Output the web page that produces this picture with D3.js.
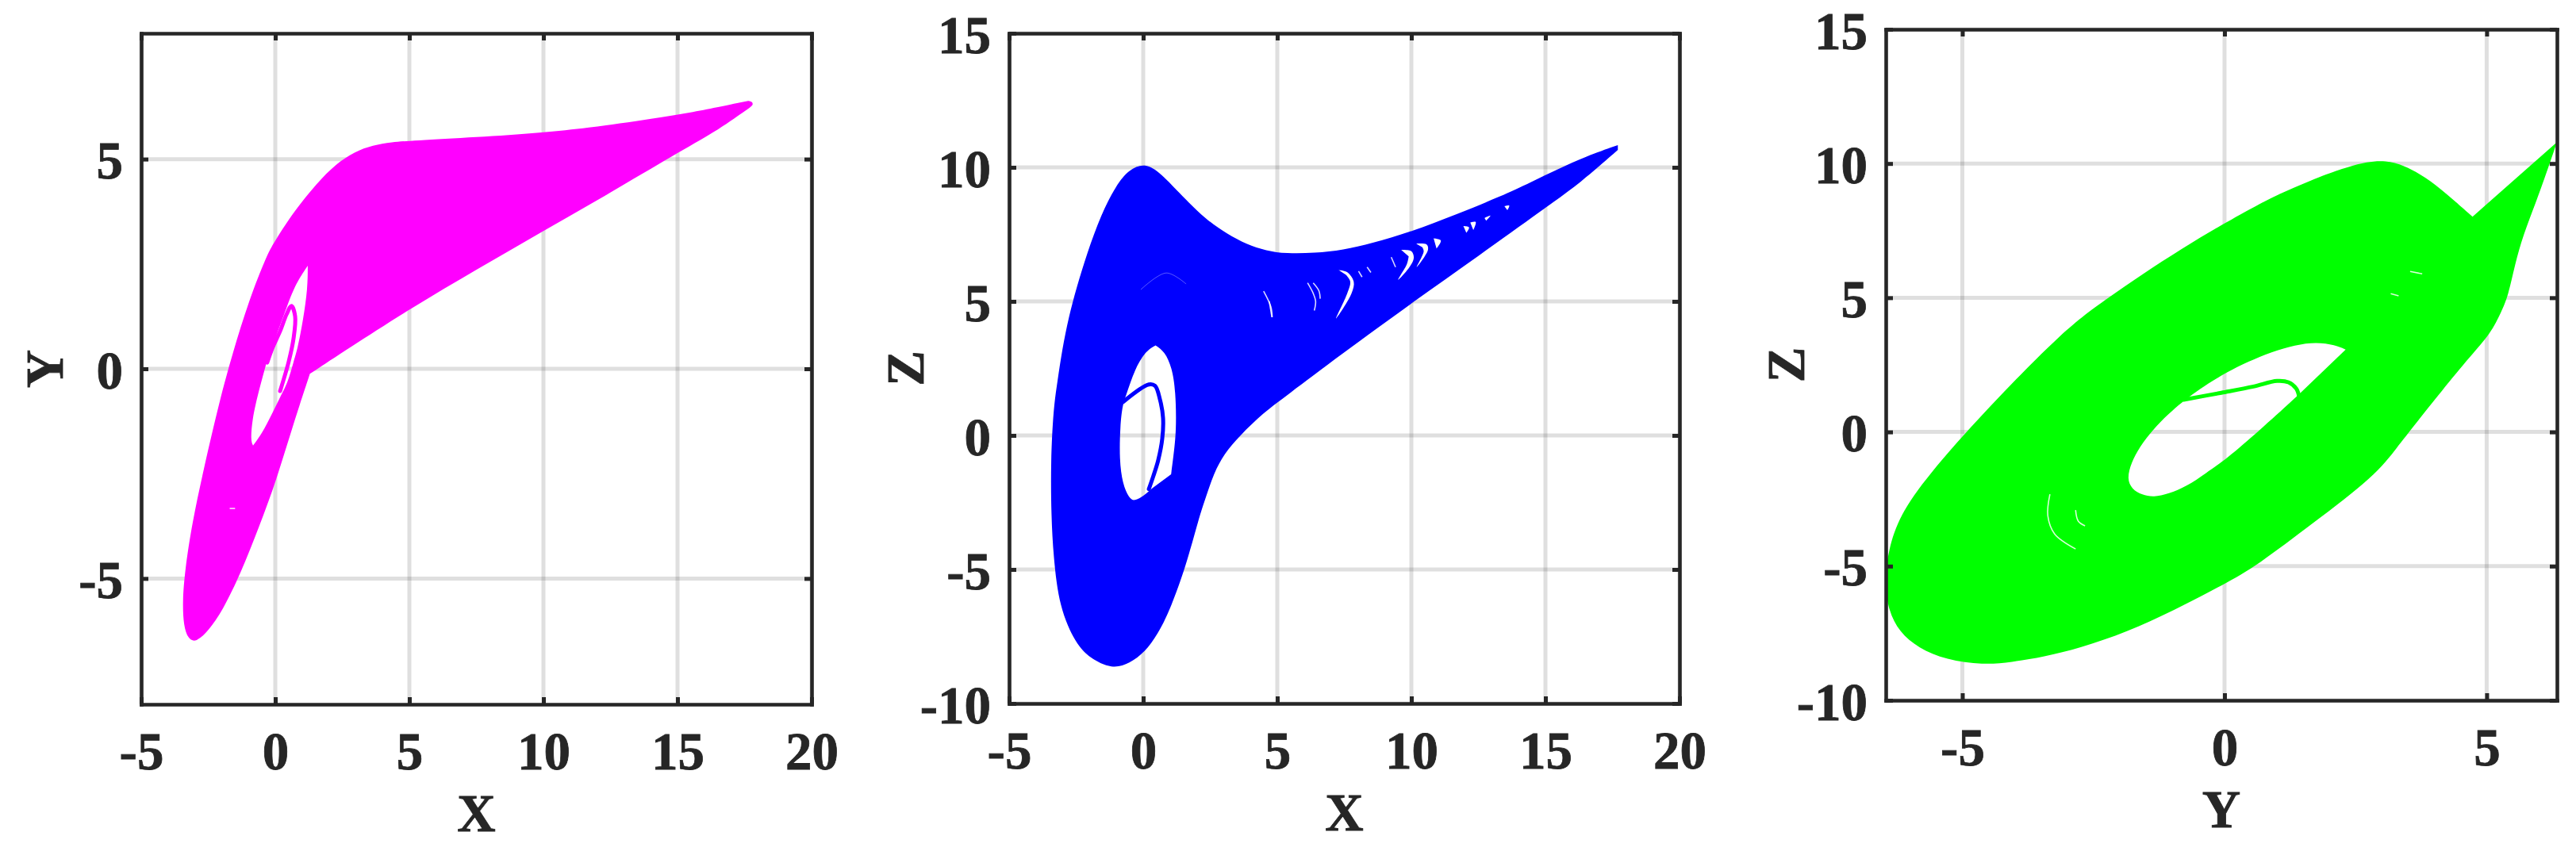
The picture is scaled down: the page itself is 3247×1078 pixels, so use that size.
<!DOCTYPE html>
<html><head><meta charset="utf-8">
<script src="https://cdn.jsdelivr.net/npm/d3@7"></script>
<style>html,body{margin:0;padding:0;background:#fff}svg{display:block}</style>
</head><body><svg id="c" width="3247" height="1078"></svg>
<script>
// ---- values (data coordinates) ----
const xTicksXY=[-5,0,5,10,15,20], yTicksXY=[-5,0,5];
const xTicksXZ=[-5,0,5,10,15,20], zTicks=[-10,-5,0,5,10,15];
const yTicksYZ=[-5,0,5];

// X-Y panel: each outline is a list of smooth runs, joined at corners
const xyOuter=[
 [[1.29,-.12],[.68,-1.3],[.03,-2.68],[-.59,-3.74],[-1.3,-4.9],[-1.98,-5.78],[-2.49,-6.24],[-2.96,-6.53],[-3.25,-6.44],[-3.42,-6.13],[-3.46,-5.54],[-3.37,-4.81],[-3.1,-3.67],[-2.66,-2.36],[-2.07,-.74],[-1.6,.35],[-1,1.6],[-.3,2.74],[0,3.06],[.68,3.74],[1.57,4.44],[2.25,4.88],[2.96,5.18],[3.64,5.33],[4.33,5.41],[5.12,5.44],[7.49,5.52],[9.95,5.63],[11.7,5.75],[13.4,5.9],[15.4,6.09],[17.63,6.39]],
 [[17.63,6.39],[17.8,6.37],[17.82,6.28],[17.63,6.2]],
 [[17.63,6.2],[16.36,5.63],[14.97,5.14],[12.4,4.16],[9.95,3.27],[7.49,2.36],[5.12,1.47],[2.69,.47],[1.29,-.12]]
];
const xyHole=[
 [[1.21,2.46],[1.21,1.93],[1.04,1.17],[.83,.47],[.68,.17],[.47,-.32],[.24,-.6]],
 [[.24,-.6],[-.11,-1.06],[-.5,-1.55],[-.83,-1.83]],
 [[-.83,-1.83],[-.92,-1.7],[-.86,-1.22],[-.68,-.68],[-.3,.21]],
 [[-.3,.21],[0,.72],[.47,1.55],[.77,2.04],[1.21,2.46]]
];
const xyBand=[[-.3,.15],[-.11,.49],[.18,.9],[.42,1.3],[.6,1.5],[.74,1.25],[.68,.72],[.5,.17],[.18,-.53]];
const xyThin=[[[-1.7,-3.33],[-1.5,-3.33]]];

// X-Z panel
const xzOuter=[
 [[17.7,10.83],[16.5,10.4],[15.5,9.95],[14.44,9.44],[13.37,8.93],[11.69,8.25],[10,7.6],[8.52,7.16],[7.46,6.92],[6.39,6.8],[5.33,6.78],[4.59,6.89],[3.85,7.13],[3.14,7.51],[2.34,8.05],[1.45,8.93],[.65,9.79],[.07,10.17],[-.53,9.92],[-1,9.35],[-1.57,8.25],[-2.1,6.78],[-2.49,5.5],[-2.78,4.41],[-3.02,3.22],[-3.2,2],[-3.35,1],[-3.45,-1],[-3.43,-3],[-3.35,-4.5],[-3.13,-6.43],[-2.51,-7.78],[-2,-8.3],[-1.16,-8.72],[-.5,-8.5],[.06,-8.09],[.55,-7.4],[.98,-6.56],[1.59,-4.9],[2.08,-3.06],[2.34,-2.3],[2.63,-1.42],[3.02,-.68],[3.58,-.03],[4.5,.86],[5.3,1.45],[7.34,2.99],[10.09,5],[12.5,6.69],[14.95,8.46],[16.33,9.44],[17.7,10.65]]
];
const xzHole=[
 [[.46,3.36],[.07,3.13],[-.33,2.43],[-.62,1.55],[-.77,1.15],[-.86,.36],[-.89,-.92],[-.77,-1.8],[-.53,-2.34],[-.33,-2.46],[.03,-2.25],[.36,-1.95]],
 [[.36,-1.95],[1.04,-1.45]],
 [[1.04,-1.45],[1.12,-.83],[1.24,.18],[1.21,1.66],[1.07,2.54],[.8,3.13],[.46,3.36]]
];
const xzBand=[[-.75,1.25],[.21,1.9],[.44,1.85],[.62,1.36],[.74,.65],[.71,-.12],[.56,-.92],[.38,-1.51],[.21,-2.0]];
const xzSlivers=[
 [[7.29,6.17],[7.61,6.09],[7.85,5.74],[7.77,5.3],[7.19,4.36],[7.61,5.3],[7.72,5.74],[7.56,5.99]],
 [[9.62,6.92],[10,6.87],[10.09,6.63],[9.93,6.28],[9.51,5.81],[9.83,6.38],[9.9,6.68]],
 [[10.18,7.15],[10.57,7.12],[10.62,6.92],[10.2,6.28],[10.46,6.87],[10.41,7.02]],
 [[10.83,7.35],[11.1,7.27],[10.94,6.97]],
 [[12.2,7.94],[12.4,7.96],[12.31,7.66]],
 [[11.94,7.81],[12.15,7.76],[12.05,7.56]],
 [[13.47,8.55],[13.65,8.57],[13.58,8.4]],
 [[12.73,8.11],[12.95,8.2],[12.79,8.01]]
];
const xzThin=[
 [[6.13,5.69],[6.34,5.3],[6.43,5],[6.38,4.66]],
 [[6.34,5.69],[6.55,5.4],[6.6,5.1]],
 [[4.49,5.38],[4.76,4.8],[4.81,4.41]],
 [[8.35,6.28],[8.49,6.08]],
 [[9.25,6.65],[9.41,6.28]],
 [[8.03,6.13],[8.16,5.91]],
 [[4.7,5],[4.8,4.41]]
];
const xzFaint=[[[-.09,5.44],[.86,6.06],[1.6,5.65]]];

// Y-Z panel
const yzOuter=[
 [[6.34,10.8],[4.73,8.02]],
 [[4.73,8.02],[4.22,8.9],[3.83,9.5],[3.42,9.94],[3.07,10.12],[2.71,10.06],[2.36,9.88],[1.91,9.59],[1.2,9],[.7,8.55],[-.82,6.87],[-2.33,4.86],[-3.09,3.74],[-4.6,.72],[-5.67,-1.64],[-6.2,-3.12],[-6.41,-4.39],[-6.49,-5.57],[-6.41,-6.66],[-6.2,-7.46],[-5.84,-8.05],[-5.31,-8.49],[-4.6,-8.68],[-4.07,-8.58],[-3.45,-8.38],[-2.75,-8.05],[-1.86,-7.46],[-.98,-6.66],[0,-5.67],[.62,-4.98],[1.68,-3.41],[2.87,-1.64],[3.3,-.55],[3.6,.2],[4.15,1.55],[4.7,2.85],[5.08,3.68],[5.28,4.48],[5.41,5.07],[5.54,6.25],[5.69,7.31],[5.95,8.6],[6.19,9.94],[6.34,10.8]]
];
const yzHole=[
 [[2.31,3.07],[2.11,3.24],[1.75,3.35],[1.35,3.24],[.9,2.99],[.44,2.61],[.04,2.22],[-.31,1.81],[-.64,1.36],[-.79,1.14],[-1.07,.67],[-1.37,.08],[-1.62,-.56],[-1.78,-1.15],[-1.86,-1.74],[-1.77,-2.13],[-1.57,-2.35],[-1.35,-2.43],[-1.07,-2.31],[-.72,-2.03],[-.36,-1.54],[.04,-1],[.65,.03],[1.35,1.27],[1.45,1.46]],
 [[1.45,1.46],[2.31,3.07]]
];
const yzBand=[[-.78,1.2],[-.06,1.46],[.55,1.69],[1,1.9],[1.22,1.85],[1.37,1.61],[1.42,1.34]];
const yzThin=[
 [[-3.33,-2.32],[-3.37,-3.12],[-3.24,-3.8],[-2.84,-4.36]],
 [[-2.84,-2.91],[-2.79,-3.32],[-2.66,-3.5]],
 [[3.54,5.98],[3.77,5.89]],
 [[3.17,5.15],[3.32,5.07]]
];

// ---- drawing ----
const svg=d3.select('#c');
const INK='#262626', SERIF='"Liberation Serif","Times New Roman",serif', FS=67;
const panels=[
 {xd:[-5,20],yd:[-8,8],xr:[178,1023],yr:[888,42],xt:xTicksXY,yt:yTicksXY,color:'#ff00ff',outer:xyOuter,hole:xyHole,band:xyBand,slivers:[],thin:xyThin,faint:[],xl:'X',yl:'Y',ylx:79},
 {xd:[-5,20],yd:[-10,15],xr:[1272,2117],yr:[887,42],xt:xTicksXZ,yt:zTicks,color:'#0000ff',outer:xzOuter,hole:xzHole,band:xzBand,slivers:xzSlivers,thin:xzThin,faint:xzFaint,xl:'X',yl:'Z',ylx:1164},
 {xd:[-6.46,6.34],yd:[-10,15],xr:[2377,3223],yr:[883,37],xt:yTicksYZ,yt:zTicks,color:'#00ff00',outer:yzOuter,hole:yzHole,band:yzBand,slivers:[],thin:yzThin,faint:[],xl:'Y',yl:'Z',ylx:2274}
];
panels.forEach(p=>{
 const sx=d3.scaleLinear().domain(p.xd).range(p.xr), sy=d3.scaleLinear().domain(p.yd).range(p.yr);
 const g=svg.append('g');
 const smooth=d3.line().x(d=>sx(d[0])).y(d=>sy(d[1])).curve(d3.curveBasis);
 const ring=segs=>segs.map((s,i)=>{const t=smooth(s);return i?t.replace(/^M/,'L'):t;}).join('')+'Z';
 const sharp=d3.line().x(d=>sx(d[0])).y(d=>sy(d[1])).curve(d3.curveCatmullRom.alpha(.5));

 // grid
 const grid=g.append('g').attr('stroke','rgba(38,38,38,.15)').attr('stroke-width',5);
 grid.selectAll('.gx').data(p.xt).join('line').attr('class','gx').attr('x1',d=>sx(d)).attr('x2',d=>sx(d)).attr('y1',p.yr[1]).attr('y2',p.yr[0]);
 grid.selectAll('.gy').data(p.yt).join('line').attr('class','gy').attr('y1',d=>sy(d)).attr('y2',d=>sy(d)).attr('x1',p.xr[0]).attr('x2',p.xr[1]);

 // attractor body
 g.append('path').attr('d',ring(p.outer)+ring(p.hole)).attr('fill',p.color).attr('fill-rule','evenodd');
 g.append('path').attr('d',sharp(p.band)).attr('fill','none').attr('stroke',p.color).attr('stroke-width',5).attr('stroke-linecap','round');
 p.slivers.forEach(s=>g.append('path').attr('d',sharp(s)+'Z').attr('fill','#fff'));
 p.thin.forEach(s=>g.append('path').attr('d',sharp(s)).attr('fill','none').attr('stroke','#fff').attr('stroke-width',1.6).attr('opacity',.85));
 p.faint.forEach(s=>g.append('path').attr('d',sharp(s)).attr('fill','none').attr('stroke','#fff').attr('stroke-width',1).attr('opacity',.35));

 // axes
 const axes=[
  [d3.axisBottom(sx).tickValues(p.xt).tickFormat(d=>String(d)).tickPadding(34),`translate(0,${p.yr[0]})`,null],
  [d3.axisTop(sx).tickValues(p.xt).tickFormat(''),`translate(0,${p.yr[1]})`,null],
  [d3.axisLeft(sy).tickValues(p.yt).tickFormat(d=>String(d)).tickPadding(23),`translate(${p.xr[0]},0)`,'.36em'],
  [d3.axisRight(sy).tickValues(p.yt).tickFormat(''),`translate(${p.xr[1]},0)`,null]
 ];
 axes.forEach(([ax,tr,dy])=>{
  const a=g.append('g').attr('transform',tr).call(ax.tickSizeInner(-9).tickSizeOuter(0));
  a.select('.domain').attr('stroke',INK).attr('stroke-width',4.6).attr('stroke-linecap','square');
  a.selectAll('.tick line').attr('stroke',INK).attr('stroke-width',5);
  const t=a.selectAll('.tick text').attr('fill',INK).attr('stroke',INK).attr('stroke-width',.8).attr('font-family',SERIF).attr('font-size',FS).attr('font-weight','bold');
  if(dy) t.attr('dy',dy);
 });
 // axis titles
 g.append('text').attr('x',(p.xr[0]+p.xr[1])/2).attr('y',p.yr[0]+160).attr('text-anchor','middle')
  .attr('font-family',SERIF).attr('font-size',FS).attr('font-weight','bold').attr('fill',INK).attr('stroke',INK).attr('stroke-width',.8).text(p.xl);
 g.append('text').attr('transform',`translate(${p.ylx},${(p.yr[0]+p.yr[1])/2}) rotate(-90)`).attr('text-anchor','middle')
  .attr('font-family',SERIF).attr('font-size',FS).attr('font-weight','bold').attr('fill',INK).attr('stroke',INK).attr('stroke-width',.8).text(p.yl);
});
</script></body></html>
